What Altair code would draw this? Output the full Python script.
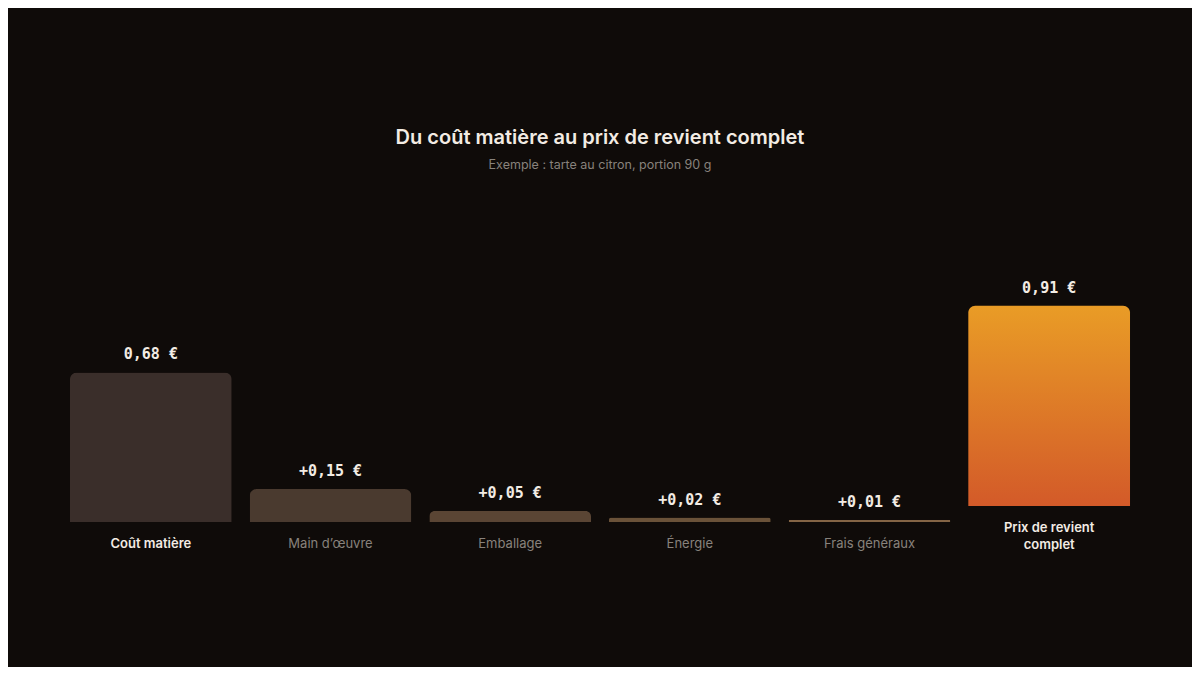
import altair as alt
import pandas as pd

categories = ["Coût matière", "Main d’œuvre", "Emballage", "Énergie", "Frais généraux", "Prix de revient complet"]
axis_labels = ["Coût matière", "Main d’œuvre", "Emballage", "Énergie", "Frais généraux", "Prix de revient\ncomplet"]
values = [0.68, 0.15, 0.05, 0.02, 0.01, 0.91]
value_labels = ["0,68 €", "+0,15 €", "+0,05 €", "+0,02 €", "+0,01 €", "0,91 €"]

df = pd.DataFrame({
    "cat": categories,
    "axis_label": axis_labels,
    "value": values,
    "vlabel": value_labels,
})

BG = "#0f0b09"
LIGHT = "#f3ece4"
GRAY = "#88827c"
bar_colors = ["#3a2e2a", "#4a3a2f", "#5a4534", "#6a5239", "#846546"]
OFF = -16

x = alt.X("cat:N", sort=categories, axis=None,
          scale=alt.Scale(paddingInner=0.1, paddingOuter=0.05))
y = alt.Y("value:Q", axis=None, scale=alt.Scale(domain=[0, 1.5], nice=False, zero=True))

last = f"datum.cat === '{categories[-1]}'"
first = f"datum.cat === '{categories[0]}'"

base = alt.Chart(df)

bars = base.transform_filter(f"!({last})").mark_bar(
    cornerRadiusTopLeft=7, cornerRadiusTopRight=7
).encode(
    x=x, y=y,
    color=alt.Color("cat:N", legend=None,
                    scale=alt.Scale(domain=categories[:-1], range=bar_colors)),
)

grad = alt.Gradient(
    gradient="linear",
    stops=[alt.GradientStop(color="#e99c26", offset=0),
           alt.GradientStop(color="#d35a29", offset=1)],
    x1=0, x2=0, y1=0, y2=1,
)
final_bar = base.transform_filter(last).mark_bar(
    cornerRadiusTopLeft=7, cornerRadiusTopRight=7, color=grad,
    yOffset=OFF, y2Offset=OFF,
).encode(x=x, y=y, y2=alt.datum(0))

vtxt = base.transform_filter(f"!({last})").mark_text(
    font="DejaVu Sans Mono", fontWeight="bold", fontSize=15, color=LIGHT,
    baseline="middle", dy=-18,
).encode(x=x, y=y, text="vlabel:N")

vtxt_last = base.transform_filter(last).mark_text(
    font="DejaVu Sans Mono", fontWeight="bold", fontSize=15, color=LIGHT,
    baseline="middle", dy=-18 + OFF,
).encode(x=x, y=y, text="vlabel:N")

ctxt_reg = base.transform_filter(f"!({last}) && !({first})").mark_text(
    font="Inter", fontSize=13, color=GRAY, baseline="middle", dy=22,
).encode(x=x, y=alt.datum(0), text="axis_label:N")

ctxt_first = base.transform_filter(first).mark_text(
    font="Inter", fontSize=13, fontWeight=600, color=LIGHT, baseline="middle", dy=22,
).encode(x=x, y=alt.datum(0), text="axis_label:N")

ctxt_last = base.transform_filter(last).mark_text(
    font="Inter", fontSize=13, fontWeight=600, color=LIGHT, baseline="middle",
    dy=22 + OFF, lineBreak="\n", lineHeight=17,
).encode(x=x, y=alt.datum(0), text="axis_label:N")

chart = alt.layer(bars, final_bar, vtxt, vtxt_last, ctxt_reg, ctxt_first, ctxt_last).properties(
    width=1078, height=330,
    autosize=alt.AutoSizeParams(type="none"),
    padding={"left": 53, "top": 184, "right": 53, "bottom": 145},
    background=BG,
    title=alt.TitleParams(
        text="Du coût matière au prix de revient complet",
        subtitle="Exemple : tarte au citron, portion 90 g",
        anchor="middle", frame="group",
        font="Inter", fontSize=20, fontWeight=600, color=LIGHT,
        subtitleFont="Inter", subtitleFontSize=12.5, subtitleColor=GRAY,
        subtitlePadding=11, offset=21,
    ),
).configure_view(stroke=None).configure_axis(grid=False)

chart.save("out.html", embed_options={"renderer": "svg", "actions": False})
